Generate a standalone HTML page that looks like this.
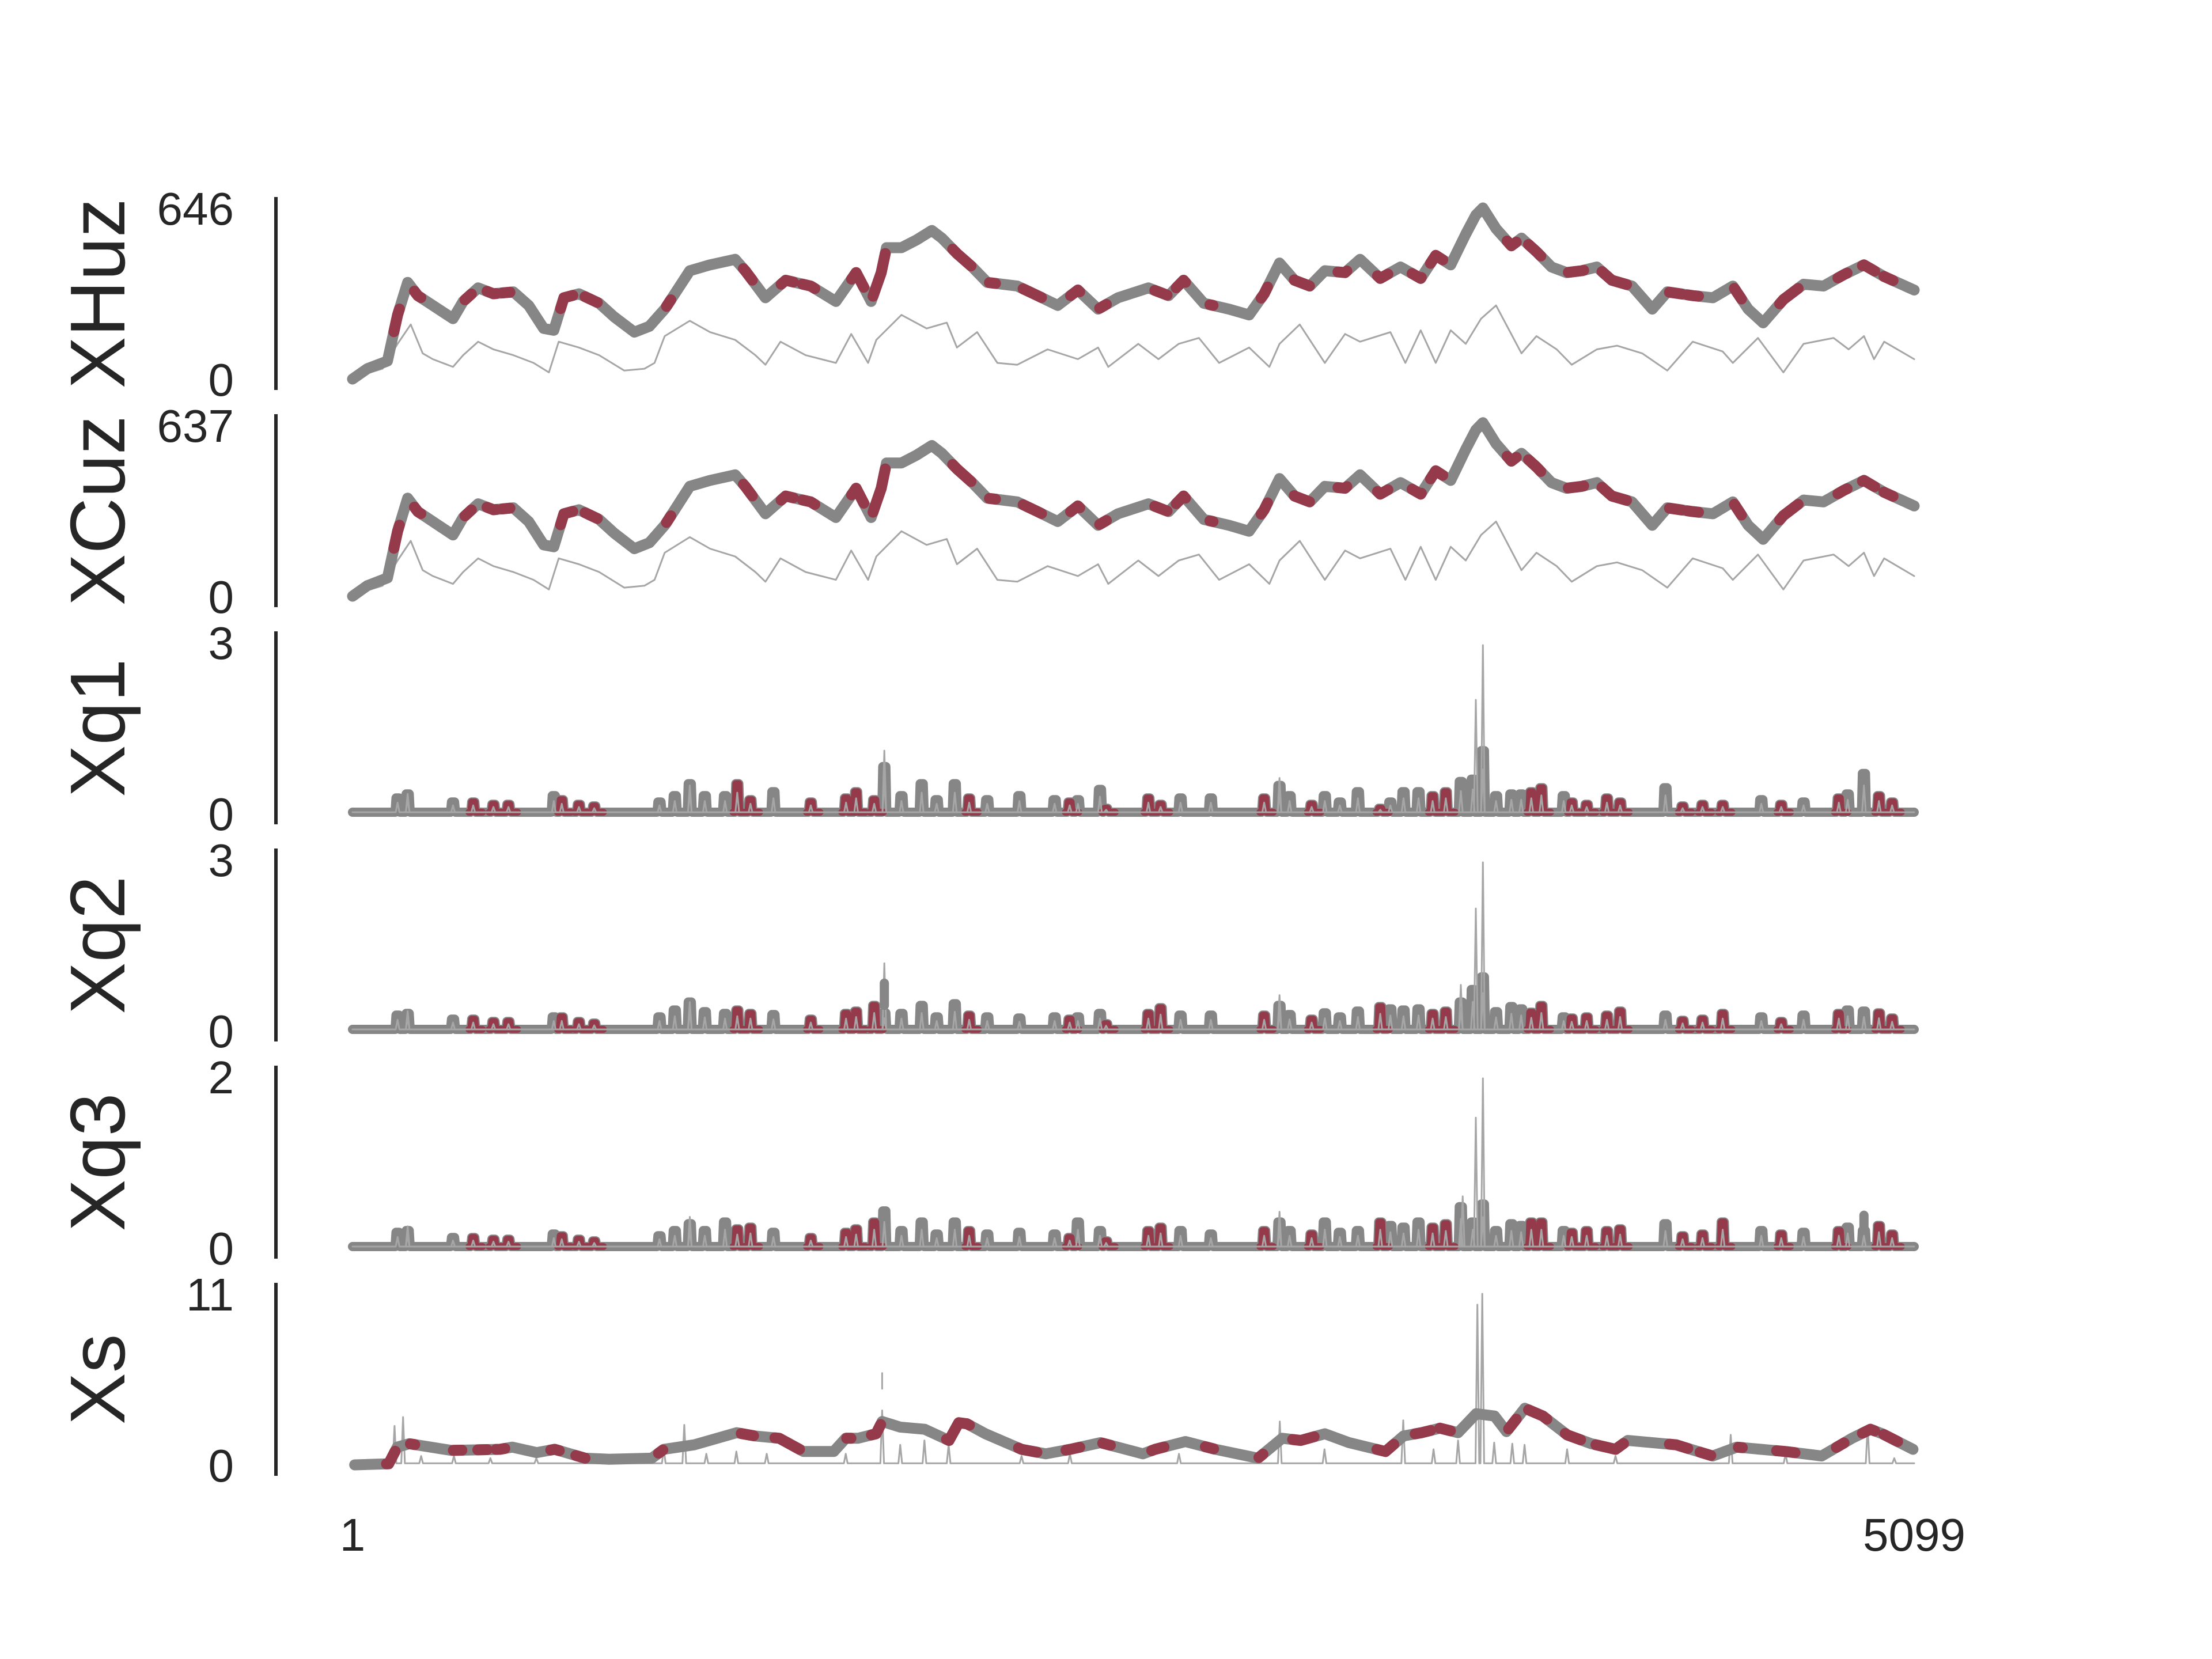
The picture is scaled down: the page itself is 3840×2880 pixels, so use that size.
<!DOCTYPE html>
<html><head><meta charset="utf-8"><style>
html,body{margin:0;padding:0;background:#fff}
svg{display:block}
text{font-family:"Liberation Sans",sans-serif;fill:#262626}
</style></head><body>
<svg id="chart" width="3840" height="2880" viewBox="0 0 3840 2880" xmlns="http://www.w3.org/2000/svg">
<rect width="3840" height="2880" fill="#fff"/>
<g id="axes"></g><g id="marks"></g>
</svg>
<script>
// ---- data ----
const panelNames = ["XHuz","XCuz","Xq1","Xq2","Xq3","Xs"];
const panelMax = [646,637,3,3,2,11];
const xTickLabels = ["1","5099"];
const nSamples = 5099;

// XHuz / XCuz main (thick) series
const huzIdx = [1,49,115,148,181,214,263,329,362,411,461,526,576,625,658,691,740,806,855,921,970,1020,1053,1102,1168,1250,1283,1349,1415,1497,1579,1645,1694,1727,1744,1793,1842,1892,1925,1974,2024,2073,2171,2237,2303,2369,2435,2500,2599,2665,2714,2780,2862,2928,2977,3027,3076,3126,3175,3241,3290,3356,3422,3488,3537,3586,3635,3668,3691,3734,3784,3817,3866,3915,3964,4014,4063,4112,4178,4244,4293,4376,4442,4507,4557,4606,4672,4738,4803,4869,4935,5001,5099];
const huzVal = [0,39,68,242,365,315,278,228,293,344,322,329,278,191,184,307,322,286,235,177,199,264,322,409,431,452,409,307,373,351,293,402,293,402,496,496,525,561,532,474,423,365,351,315,278,336,264,307,344,315,373,286,264,242,322,438,373,351,409,402,452,380,423,380,467,431,547,619,646,568,503,532,481,423,402,409,423,373,351,264,329,315,307,351,264,212,300,358,351,394,431,387,336];
const huzThinIdx = [1,99,148,191,230,263,329,362,411,461,526,592,642,674,740,806,888,954,987,1020,1102,1168,1250,1316,1349,1398,1480,1579,1629,1684,1711,1793,1875,1941,1974,2040,2106,2171,2270,2369,2435,2468,2566,2632,2698,2764,2830,2928,2994,3027,3093,3175,3241,3290,3389,3438,3488,3537,3586,3635,3685,3734,3767,3817,3866,3932,3981,4063,4129,4211,4293,4376,4474,4507,4589,4672,4738,4836,4885,4935,4968,5001,5099];
const huzThinVal = [5,39,133,206,97,75,46,90,141,112,90,61,25,141,119,90,32,39,61,162,220,177,148,90,54,141,90,61,170,61,148,242,191,213,119,177,61,54,112,75,119,46,133,75,133,155,61,119,46,133,206,61,170,141,177,61,184,61,184,133,228,278,206,97,162,112,54,112,126,97,32,141,104,61,155,25,133,155,112,162,75,141,75];
const huzRed = [[136,154],[203,224],[368,389],[440,470],[490,515],[680,720],[760,800],[1026,1040],[1277,1306],[1400,1440],[1470,1510],[1630,1670],[1700,1740],[1960,2020],[2080,2100],[2190,2250],[2345,2375],[2440,2462],[2620,2660],[2690,2720],[2800,2810],[2967,2988],[3075,3125],[3218,3247],[3347,3381],[3460,3490],[3520,3560],[3770,3800],[3840,3880],[3970,4020],[4080,4160],[4300,4340],[4360,4395],[4512,4535],[4660,4720],[4850,4880],[4930,4970],[5000,5030]];

// Xq bumps (shared positions)
const qBumpIdx = [148,181,329,395,461,510,658,684,740,790,1003,1053,1102,1151,1217,1257,1300,1375,1497,1612,1645,1704,1737,1793,1859,1908,1967,2014,2073,2178,2293,2342,2369,2441,2461,2599,2639,2704,2803,2977,3027,3060,3132,3175,3224,3283,3356,3389,3432,3481,3527,3570,3619,3658,3691,3734,3784,3816,3849,3882,3955,3981,4030,4096,4139,4287,4343,4408,4474,4600,4665,4738,4853,4882,4935,4984,5027];
const qBumpRed = [0,0,0,1,1,1,0,1,1,1,0,0,0,0,0,1,1,0,1,1,1,1,0,0,0,0,0,1,0,0,0,1,0,0,1,1,1,0,0,1,0,0,1,0,0,0,1,0,0,0,1,1,0,0,0,0,0,0,1,1,0,1,1,1,1,0,1,1,1,0,1,0,1,0,0,1,1];
const q1Bump = [0.27,0.34,0.2,0.2,0.16,0.16,0.31,0.24,0.16,0.13,0.2,0.31,0.52,0.31,0.31,0.52,0.24,0.38,0.2,0.27,0.38,0.24,0.82,0.31,0.52,0.24,0.52,0.27,0.24,0.31,0.24,0.2,0.24,0.42,0.09,0.27,0.16,0.27,0.27,0.27,0.49,0.31,0.16,0.31,0.2,0.38,0.09,0.2,0.38,0.38,0.31,0.38,0.56,0.6,1.1,0.31,0.34,0.34,0.38,0.45,0.31,0.2,0.16,0.27,0.2,0.45,0.13,0.16,0.16,0.24,0.16,0.2,0.27,0.34,0.7,0.31,0.2];
const q2Bump = [0.27,0.3,0.2,0.2,0.16,0.16,0.24,0.24,0.16,0.13,0.24,0.36,0.5,0.33,0.3,0.36,0.3,0.28,0.2,0.3,0.34,0.44,0.31,0.3,0.44,0.24,0.47,0.27,0.24,0.22,0.24,0.2,0.24,0.3,0.12,0.3,0.4,0.27,0.27,0.27,0.44,0.28,0.2,0.31,0.24,0.34,0.42,0.38,0.36,0.38,0.3,0.34,0.5,0.72,0.94,0.33,0.42,0.38,0.32,0.44,0.24,0.22,0.24,0.27,0.34,0.27,0.18,0.2,0.3,0.24,0.16,0.27,0.3,0.36,0.34,0.31,0.22];
const q3Bump = [0.18,0.2,0.12,0.12,0.1,0.1,0.16,0.14,0.1,0.08,0.14,0.2,0.28,0.2,0.3,0.22,0.24,0.18,0.12,0.18,0.22,0.3,0.43,0.2,0.3,0.16,0.3,0.2,0.16,0.18,0.16,0.12,0.3,0.2,0.08,0.2,0.24,0.2,0.16,0.2,0.3,0.2,0.16,0.3,0.18,0.2,0.3,0.26,0.24,0.3,0.24,0.28,0.48,0.3,0.51,0.2,0.28,0.26,0.3,0.3,0.2,0.18,0.2,0.2,0.22,0.28,0.14,0.16,0.3,0.2,0.16,0.18,0.2,0.24,0.2,0.26,0.16];
// Xq thin spikes
const q1SpikeIdx = [181,1102,1737,3027,3668,3691];
const q1SpikeVal = [0.34,0.49,1.1,0.62,1.99,2.95];
const q2SpikeIdx = [181,1102,1737,3027,3619,3668,3691];
const q2SpikeVal = [0.34,0.5,1.18,0.62,0.8,2.14,2.95];
const q3SpikeIdx = [181,1102,1737,3027,3625,3668,3691];
const q3SpikeVal = [0.25,0.36,0.3,0.42,0.6,1.52,1.98];
const q2Float = [1737,0.44,0.83];
const q3Float = [4935,0.22,0.38];

// Xs thick series
const xsIdx = [8,119,147,186,324,482,522,602,661,760,839,978,1017,1116,1255,1314,1394,1473,1572,1611,1651,1710,1730,1789,1869,1948,1980,2007,2067,2185,2264,2344,2443,2581,2621,2720,2818,2957,3036,3096,3175,3254,3373,3432,3491,3551,3610,3669,3729,3768,3828,3887,3966,4045,4124,4164,4322,4441,4520,4679,4797,4896,4956,4995,5095];
const xsVal = [0,0.07,1.14,1.36,0.93,1.0,1.14,0.79,1.0,0.43,0.36,0.43,1.0,1.29,2.07,1.86,1.71,0.86,0.86,1.71,1.71,2.0,2.79,2.43,2.29,1.57,2.71,2.64,2.0,1.0,0.71,1.0,1.43,0.71,1.0,1.5,1.0,0.43,1.71,1.57,2.0,1.43,0.86,1.86,2.07,2.36,2.07,3.29,3.14,2.14,3.64,3.14,1.93,1.36,1.0,1.57,1.29,0.57,1.14,0.86,0.57,1.71,2.29,2.0,1.0];
const xsRed = [[112,140],[190,204],[330,358],[410,440],[470,498],[648,676],[730,760],[1000,1014],[1270,1310],[1380,1460],[1614,1628],[1695,1725],[1940,2015],[2175,2235],[2330,2375],[2450,2475],[2610,2650],[2785,2812],[2960,2973],[3070,3140],[3345,3400],[3470,3520],[3550,3585],[3775,3800],[3840,3900],[3960,4010],[4060,4150],[4300,4360],[4400,4435],[4525,4538],[4650,4710],[4845,4870],[4930,4970],[5000,5045]];
// Xs thin spikes
const xsSpikeIdx = [138,166,225,332,451,601,1017,1084,1156,1254,1353,1611,1730,1789,1868,1947,2185,2343,2699,3028,3174,3431,3530,3610,3673,3689,3728,3787,3827,3966,4124,4500,4679,4947,5034];
const xsSpikeVal = [2.5,3.07,0.57,0.57,0.43,0.43,1.0,2.57,0.71,0.86,0.71,0.71,3.5,1.29,1.57,1.29,0.57,0.71,0.71,2.79,1.0,2.86,1.0,1.57,10.3,11.0,1.43,1.36,1.29,1.0,0.57,1.93,0.71,2.5,0.43];
const xsFloat = [1730,4.9,5.9];

// ---- rendering ----
const NS="http://www.w3.org/2000/svg";
const axes=document.getElementById('axes'), marks=document.getElementById('marks');
const X0=612,X1=3323;
function xs(i){return X0+(i-1)/(nSamples-1)*(X1-X0);}
function ys(p,v){return 658+377*p - v/panelMax[p]*297;}
const GRAY="#868686",RED="#953a4b",THIN="#a6a6a6",THICK=19;
function mk(tag,attrs,parent){const e=document.createElementNS(NS,tag);for(const k in attrs)e.setAttribute(k,attrs[k]);parent.appendChild(e);return e;}
function poly(pts,p,stroke,w,parent,name){
  const d=pts.map((q,k)=>(k?'L':'M')+xs(q[0]).toFixed(1)+' '+ys(p,q[1]).toFixed(1)).join('');
  const e=mk('path',{d:d,fill:'none',stroke:stroke,'stroke-width':w,'stroke-linejoin':'round','stroke-linecap':'round'},parent);
  
  
  return e;
}
function interp(ix,vals,t){for(let k=1;k<ix.length;k++){if(t<=ix[k]){const f=(t-ix[k-1])/(ix[k]-ix[k-1]||1);return vals[k-1]+f*(vals[k]-vals[k-1]);}}return vals[vals.length-1];}
function slice(ix,vals,a,b){const pts=[[a,interp(ix,vals,a)]];for(let k=0;k<ix.length;k++)if(ix[k]>a&&ix[k]<b)pts.push([ix[k],vals[k]]);pts.push([b,interp(ix,vals,b)]);return pts;}
function spikes(idx,val,base){const pts=[[1,base]];idx.forEach((i,k)=>{pts.push([i-6,base],[i,val[k]],[i+6,base]);});pts.push([nSamples,base]);return pts;}

panelNames.forEach((nm,p)=>{
  const top=342+377*p,bot=top+335;
  const sp=mk('line',{x1:479,x2:479,y1:top,y2:bot,stroke:'#262626','stroke-width':6},axes);
  
  
  const t1=mk('text',{x:406,y:ys(p,panelMax[p])+29,'font-size':80,'text-anchor':'end'},axes);t1.textContent=String(panelMax[p]);
  
  
  const t0=mk('text',{x:406,y:ys(p,0)+29,'font-size':80,'text-anchor':'end'},axes);t0.textContent='0';
  
  
  const cy=(top+bot)/2;
  const tt=mk('text',{x:0,y:0,'font-size':135,'text-anchor':'middle',transform:'translate(216,'+cy+') rotate(-90)'},axes);tt.textContent=nm;
  
  
});
xTickLabels.forEach((l,k)=>{
  const t=mk('text',{x:k?X1:X0,y:2692,'font-size':80,'text-anchor':'middle'},axes);t.textContent=l;
  
  
});

// XHuz & XCuz
[0,1].forEach(p=>{
  const g=mk('g',{},marks);
  
  
  poly(huzThinIdx.map((i,k)=>[i,huzThinVal[k]]),p,THIN,3,g,'thin-line');
  poly(huzIdx.map((i,k)=>[i,huzVal[k]]),p,GRAY,THICK,g,'thick-line');
  huzRed.forEach(r=>poly(slice(huzIdx,huzVal,r[0],r[1]),p,RED,THICK,g,'highlight-segment'));
});

// Xq panels
[[2,q1Bump,q1SpikeIdx,q1SpikeVal,null],[3,q2Bump,q2SpikeIdx,q2SpikeVal,q2Float],[4,q3Bump,q3SpikeIdx,q3SpikeVal,q3Float]].forEach(cfg=>{
  const [p,bump,sIdx,sVal,fl]=cfg;
  const g=mk('g',{},marks);
  
  
  const base=0.02*panelMax[p]/3;
  const pts=[[1,base]];
  qBumpIdx.forEach((i,k)=>{pts.push([i-8,base],[i-5,bump[k]],[i+5,bump[k]],[i+8,base]);});
  pts.push([nSamples,base]);
  poly(pts,p,GRAY,16,g,'thick-line');
  qBumpIdx.forEach((i,k)=>{if(qBumpRed[k])poly([[i-14,base],[i-8,base],[i-5,bump[k]],[i+5,bump[k]],[i+8,base],[i+30,base]],p,RED,12,g,'highlight-bump');});
  poly(spikes(qBumpIdx.concat(sIdx),bump.map(v=>v*0.7).concat(sVal),base),p,THIN,3,g,'thin-line');
  if(fl)poly([[fl[0],fl[1]],[fl[0],fl[2]]],p,GRAY,16,g,'floating-segment');
});

// Xs
(function(){
  const p=5;
  const g=mk('g',{},marks);
  
  
  poly(spikes(xsSpikeIdx,xsSpikeVal,0.1),p,THIN,3,g,'thin-line');
  poly(xsIdx.map((i,k)=>[i,xsVal[k]]),p,GRAY,THICK,g,'thick-line');
  xsRed.forEach(r=>poly(slice(xsIdx,xsVal,r[0],r[1]),p,RED,THICK,g,'highlight-segment'));
  poly([[xsFloat[0],xsFloat[1]],[xsFloat[0],xsFloat[2]]],p,THIN,3,g,'floating-segment');
})();
</script>
</body></html>
